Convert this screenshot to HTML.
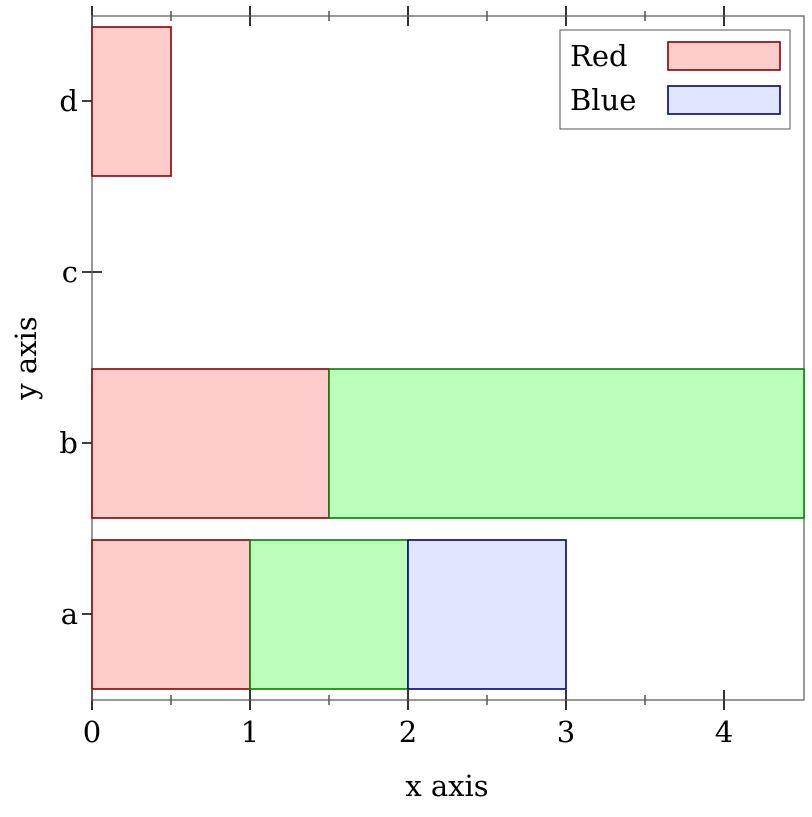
<!DOCTYPE html>
<html><head><style>body{margin:0;background:#fff}</style></head><body>
<svg width="812" height="812" xmlns="http://www.w3.org/2000/svg" font-family="DejaVu Serif, Liberation Serif, serif">
<rect width="812" height="812" fill="#fff"/>
<g stroke="#000" stroke-width="1.6">
<line x1="92" y1="690" x2="92" y2="710"/><line x1="250" y1="690" x2="250" y2="710"/><line x1="408" y1="690" x2="408" y2="710"/><line x1="566" y1="690" x2="566" y2="710"/><line x1="724" y1="690" x2="724" y2="710"/>
<line x1="171" y1="695" x2="171" y2="705" stroke-width="1"/><line x1="329" y1="695" x2="329" y2="705" stroke-width="1"/><line x1="487" y1="695" x2="487" y2="705" stroke-width="1"/><line x1="645" y1="695" x2="645" y2="705" stroke-width="1"/>
<line x1="92" y1="6" x2="92" y2="26"/><line x1="250" y1="6" x2="250" y2="26"/><line x1="408" y1="6" x2="408" y2="26"/><line x1="566" y1="6" x2="566" y2="26"/><line x1="724" y1="6" x2="724" y2="26"/>
<line x1="171" y1="11" x2="171" y2="21" stroke-width="1"/><line x1="329" y1="11" x2="329" y2="21" stroke-width="1"/><line x1="487" y1="11" x2="487" y2="21" stroke-width="1"/><line x1="645" y1="11" x2="645" y2="21" stroke-width="1"/>
<line x1="82" y1="614" x2="102" y2="614"/><line x1="82" y1="443" x2="102" y2="443"/><line x1="82" y1="272" x2="102" y2="272"/><line x1="82" y1="101" x2="102" y2="101"/>
</g>
<rect x="92" y="16" width="712" height="684" fill="none" stroke="#555" stroke-width="1.2"/>
<g stroke-width="1.6">
<rect x="92" y="540" width="158" height="149" fill="#ffcccc" stroke="#8b0000"/>
<rect x="250" y="540" width="158" height="149" fill="#bbffbb" stroke="#008000"/>
<rect x="408" y="540" width="158" height="149" fill="#e0e6ff" stroke="#00007f"/>
<rect x="92" y="369" width="237" height="149" fill="#ffcccc" stroke="#8b0000"/>
<rect x="329" y="369" width="475" height="149" fill="#bbffbb" stroke="#008000"/>
<rect x="92" y="27" width="79" height="149" fill="#ffcccc" stroke="#8b0000"/>
</g>
<g font-size="29" fill="#000">
<text x="92" y="742" text-anchor="middle">0</text><text x="250" y="742" text-anchor="middle">1</text><text x="408" y="742" text-anchor="middle">2</text><text x="566" y="742" text-anchor="middle">3</text><text x="724" y="742" text-anchor="middle">4</text>
<text x="78" y="624" text-anchor="end">a</text><text x="78" y="453" text-anchor="end">b</text><text x="78" y="282" text-anchor="end">c</text><text x="78" y="111" text-anchor="end">d</text>
<text x="447" y="796" text-anchor="middle">x axis</text>
<text transform="translate(36,358) rotate(-90)" text-anchor="middle">y axis</text>
</g>
<rect x="560" y="30" width="230" height="99" fill="#fff" stroke="#555" stroke-width="1"/>
<g font-size="29"><text x="570" y="66">Red</text><text x="570" y="110">Blue</text></g>
<rect x="668" y="42" width="112" height="28" fill="#ffcccc" stroke="#8b0000" stroke-width="1.6"/>
<rect x="668" y="86" width="112" height="28" fill="#e0e6ff" stroke="#00007f" stroke-width="1.6"/>
</svg>
</body></html>
